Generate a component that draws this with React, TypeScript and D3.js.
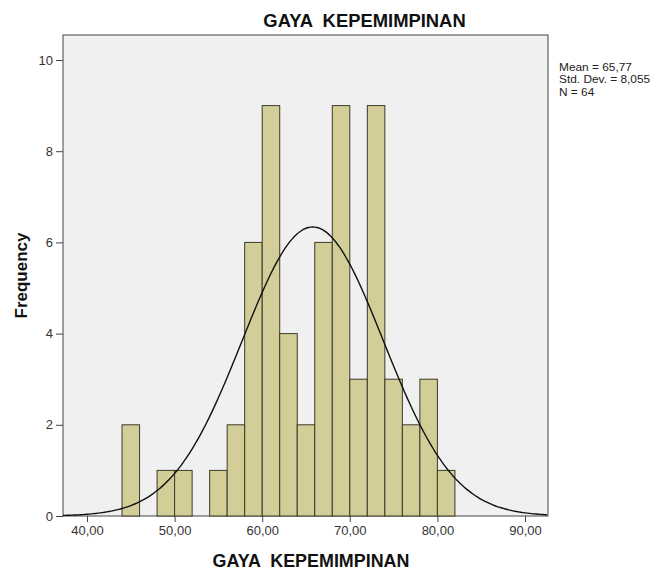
import * as React from "react";
import { useEffect, useRef } from "react";
import * as d3 from "d3";

// histogram bins (lower edge, width 2) and counts
const binStarts = [44, 48, 50, 54, 56, 58, 60, 62, 64, 66, 68, 70, 72, 74, 76, 78, 80];
const binCounts = [2, 1, 1, 1, 2, 6, 9, 4, 2, 6, 9, 3, 9, 3, 2, 3, 1];
const binWidth = 2;
const xTicks = [40, 50, 60, 70, 80, 90];
const yTicks = [0, 2, 4, 6, 8, 10];
const statLines = ["Mean = 65,77", "Std. Dev. = 8,055", "N = 64"];
const mean = 65.77;
const sd = 8.055;
const n = 64;

const W = 656;
const H = 570;
const font = "Arial, 'Liberation Sans', sans-serif";

const App = () => {
  const ref = useRef<SVGSVGElement>(null);

  useEffect(() => {
    const svg = d3.select(ref.current);
    svg.selectAll("*").remove();

    const left = 63, top = 35, right = 548, bottom = 516;
    const x = d3.scaleLinear().domain([40, 90]).range([87, 525]);
    const y = d3.scaleLinear().domain([0, 10]).range([bottom, 60]);
    const fmt = (v: number) => v.toFixed(2).replace(".", ",");

    svg.append("rect")
      .attr("x", left).attr("y", top)
      .attr("width", right - left).attr("height", bottom - top)
      .attr("fill", "#f0f0f0").attr("stroke", "#444").attr("stroke-width", 1);

    svg.append("g")
      .selectAll("rect")
      .data(binStarts)
      .enter()
      .append("rect")
      .attr("x", (d) => x(d))
      .attr("y", (d, i) => y(binCounts[i]))
      .attr("width", (d) => x(d + binWidth) - x(d))
      .attr("height", (d, i) => bottom - y(binCounts[i]))
      .attr("fill", "#d3ce97")
      .attr("stroke", "#3a3a2a")
      .attr("stroke-width", 1);

    // normal curve scaled to counts
    const k = (n * binWidth) / (sd * Math.sqrt(2 * Math.PI));
    const xs = d3.range(x.invert(left), x.invert(right) + 0.01, 0.25);
    const line = d3.line<number>()
      .x((d) => x(d))
      .y((d) => y(k * Math.exp(-0.5 * ((d - mean) / sd) ** 2)))
      .curve(d3.curveBasis);
    svg.append("path")
      .attr("d", line(xs))
      .attr("fill", "none")
      .attr("stroke", "#111")
      .attr("stroke-width", 1.4);

    // y axis
    const ya = svg.append("g")
      .attr("transform", `translate(${left},0)`)
      .call(d3.axisLeft(y).tickValues(yTicks).tickSize(7).tickPadding(3));
    ya.select(".domain").remove();
    ya.selectAll("line").attr("stroke", "#444");
    ya.selectAll("text").attr("font-family", font).attr("font-size", 13).attr("fill", "#333");

    // x axis
    const xa = svg.append("g")
      .attr("transform", `translate(0,${bottom})`)
      .call(d3.axisBottom(x).tickValues(xTicks).tickFormat((d) => fmt(+d)).tickSize(6).tickPadding(4));
    xa.select(".domain").remove();
    xa.selectAll("line").attr("stroke", "#444");
    xa.selectAll("text").attr("font-family", font).attr("font-size", 13).attr("fill", "#333");

    svg.append("text")
      .attr("x", 364.5).attr("y", 27)
      .attr("text-anchor", "middle")
      .attr("font-family", font).attr("font-weight", "bold").attr("font-size", 18.4)
      .attr("fill", "#111")
      .attr("xml:space", "preserve")
      .text("GAYA  KEPEMIMPINAN");

    svg.append("text")
      .attr("x", 311).attr("y", 566.5)
      .attr("text-anchor", "middle")
      .attr("font-family", font).attr("font-weight", "bold").attr("font-size", 17.9)
      .attr("fill", "#111")
      .attr("xml:space", "preserve")
      .text("GAYA  KEPEMIMPINAN");

    svg.append("text")
      .attr("transform", `translate(27,275.5) rotate(-90)`)
      .attr("text-anchor", "middle")
      .attr("font-family", font).attr("font-weight", "bold").attr("font-size", 17)
      .attr("fill", "#111")
      .text("Frequency");

    // stats box, slightly widened glyphs like the original
    svg.append("g")
      .attr("transform", "translate(559,0) scale(1.08,1)")
      .selectAll("text")
      .data(statLines)
      .enter()
      .append("text")
      .attr("x", 0)
      .attr("y", (d, i) => 71 + i * 12.5)
      .attr("font-family", font).attr("font-size", 11)
      .attr("fill", "#222")
      .text((d) => d);
  });

  return (
    <svg
      ref={ref}
      width={W}
      height={H}
      style={{ position: "absolute", left: 0, top: 0, background: "#fff" }}
    ></svg>
  );
};

export default App;
